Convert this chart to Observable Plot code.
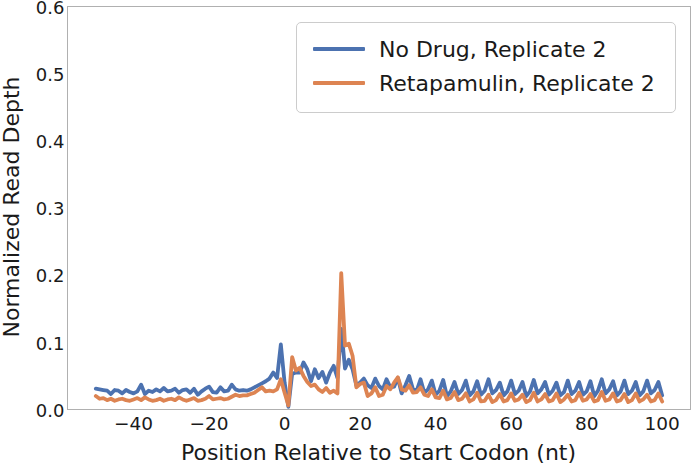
<!DOCTYPE html>
<html>
<head>
<meta charset="utf-8">
<script src="https://cdn.jsdelivr.net/npm/d3@7"></script>
<script src="https://cdn.jsdelivr.net/npm/@observablehq/plot@0.6"></script>
<style>
  html, body { margin: 0; padding: 0; background: #fff; }
  #wrap { position: relative; width: 692px; height: 465px; font-family: "DejaVu Sans", sans-serif; color: #1a1a1a; overflow: hidden; }
  #legend { position: absolute; left: 296px; top: 22px; width: 380px; height: 91px; border: 1px solid #cccccc; border-radius: 5px; background: rgba(255,255,255,0.85); box-sizing: border-box; }
  .item { position: absolute; left: 16px; height: 26px; display: flex; align-items: center; font-size: 22px; white-space: nowrap; }
  .sw { width: 52px; height: 4px; margin-right: 14px; border-radius: 1px; }
  .xtitle { position: absolute; left: 67px; width: 623px; top: 441px; text-align: center; font-size: 22px; line-height: 23px; white-space: nowrap; }
  .ytitle { position: absolute; left: 12px; top: 207px; transform: translate(-50%, -50%) rotate(-90deg); font-size: 22px; line-height: 22px; white-space: nowrap; }
</style>
</head>
<body>
<div id="wrap"></div>
<script>
const seriesNames = ["No Drug, Replicate 2", "Retapamulin, Replicate 2"];
const seriesColors = ["#4c72b0", "#dd8452"];
const xTitle = "Position Relative to Start Codon (nt)";
const yTitle = "Normalized Read Depth";
const xTicks = [-40, -20, 0, 20, 40, 60, 80, 100];
const yTicks = [0, 0.1, 0.2, 0.3, 0.4, 0.5, 0.6];
const startPos = -50;

// No Drug, Replicate 2  (positions -50 .. 100)
const noDrug = [
  .031,.030,.029,.028,.023,.029,.028,.024,.029,.026,   // -50..-41
  .024,.027,.037,.023,.028,.026,.030,.027,.032,.027,   // -40..-31
  .028,.031,.025,.029,.030,.025,.031,.022,.027,.031,   // -30..-21
  .034,.026,.025,.033,.027,.028,.037,.030,.028,.029,   // -20..-11
  .028,.030,.033,.036,.039,.042,.046,.055,.047,.097,   // -10..-1
  .040,.004,.053,.055,.055,.070,.060,.042,.060,.047,   // 0..9
  .056,.040,.055,.065,.047,.120,.061,.074,.060,.036,   // 10..19
  .040,.046,.036,.032,.046,.035,.030,.045,.033,.034,   // 20..29
  .047,.024,.036,.050,.030,.028,.045,.025,.030,.043,   // 30..39
  .022,.028,.044,.020,.027,.041,.023,.029,.043,.021,   // 40..49
  .027,.042,.022,.028,.045,.024,.029,.040,.021,.027,   // 50..59
  .043,.023,.028,.041,.020,.027,.044,.024,.030,.041,   // 60..69
  .022,.028,.040,.021,.026,.043,.023,.028,.041,.022,   // 70..79
  .027,.042,.020,.028,.045,.024,.030,.042,.021,.027,   // 80..89
  .043,.023,.028,.041,.021,.027,.043,.024,.029,.041,   // 90..99
  .021                                                  // 100
];
// Retapamulin, Replicate 2  (positions -50 .. 100)
const retapamulin = [
  .020,.016,.017,.014,.016,.013,.015,.016,.014,.013,   // -50..-41
  .015,.017,.014,.018,.015,.013,.014,.016,.013,.015,   // -40..-31
  .016,.014,.018,.015,.013,.015,.017,.013,.014,.016,   // -30..-21
  .020,.015,.016,.017,.015,.016,.019,.022,.020,.021,   // -20..-11
  .021,.023,.025,.029,.033,.027,.028,.027,.030,.045,   // -10..-1
  .025,.006,.078,.058,.062,.050,.041,.035,.037,.030,   // 0..9
  .026,.032,.025,.028,.024,.203,.095,.098,.080,.033,   // 10..19
  .038,.040,.020,.024,.033,.020,.022,.035,.030,.040,   // 20..29
  .048,.030,.028,.036,.025,.026,.033,.022,.020,.030,   // 30..39
  .018,.017,.028,.015,.017,.026,.014,.016,.024,.012,   // 40..49
  .015,.025,.012,.013,.022,.011,.014,.023,.012,.014,   // 50..59
  .024,.013,.015,.022,.011,.014,.025,.012,.015,.023,   // 60..69
  .012,.014,.024,.011,.015,.022,.012,.014,.025,.013,   // 70..79
  .015,.023,.012,.014,.026,.013,.015,.024,.012,.014,   // 80..89
  .023,.011,.014,.024,.012,.015,.022,.012,.014,.024,   // 90..99
  .012                                                  // 100
];

const rows = [];
[noDrug, retapamulin].forEach((arr, si) => {
  arr.forEach((v, i) => rows.push({pos: startPos + i, value: v, series: seriesNames[si]}));
});

const chart = Plot.plot({
  width: 692,
  height: 465,
  marginLeft: 67,
  marginRight: 2,
  marginTop: 6,
  marginBottom: 56,
  style: {fontFamily: "DejaVu Sans, sans-serif", background: "white", color: "#1a1a1a", overflow: "visible"},
  x: {domain: [-57.5, 107.5]},
  y: {domain: [0, 0.6]},
  color: {domain: seriesNames, range: seriesColors},
  marks: [
    Plot.frame({stroke: "#b0b0b0", strokeWidth: 1}),
    Plot.axisX({ticks: xTicks, tickSize: 0, tickPadding: 7, fontSize: 18.5, label: null, tickFormat: d => d < 0 ? "\u2212" + Math.abs(d) : String(d)}),
    Plot.axisY({ticks: yTicks, tickSize: 0, tickPadding: 3, fontSize: 18, dy: 1.5, tickFormat: d => d.toFixed(1), label: null}),
    Plot.line(rows, {x: "pos", y: "value", z: "series", stroke: "series", strokeWidth: 3.8, strokeLinejoin: "round", strokeLinecap: "round"})
  ]
});
const wrap = document.getElementById("wrap");
wrap.appendChild(chart);

const xt = document.createElement("div");
xt.className = "xtitle";
xt.textContent = xTitle;
wrap.appendChild(xt);
const yt = document.createElement("div");
yt.className = "ytitle";
yt.textContent = yTitle;
wrap.appendChild(yt);

const legend = document.createElement("div");
legend.id = "legend";
seriesNames.forEach((name, i) => {
  const item = document.createElement("div");
  item.className = "item";
  item.style.top = (13 + i * 34) + "px";
  const sw = document.createElement("div");
  sw.className = "sw";
  sw.style.background = seriesColors[i];
  const label = document.createElement("span");
  label.textContent = name;
  item.appendChild(sw);
  item.appendChild(label);
  legend.appendChild(item);
});
wrap.appendChild(legend);
</script>
</body>
</html>
